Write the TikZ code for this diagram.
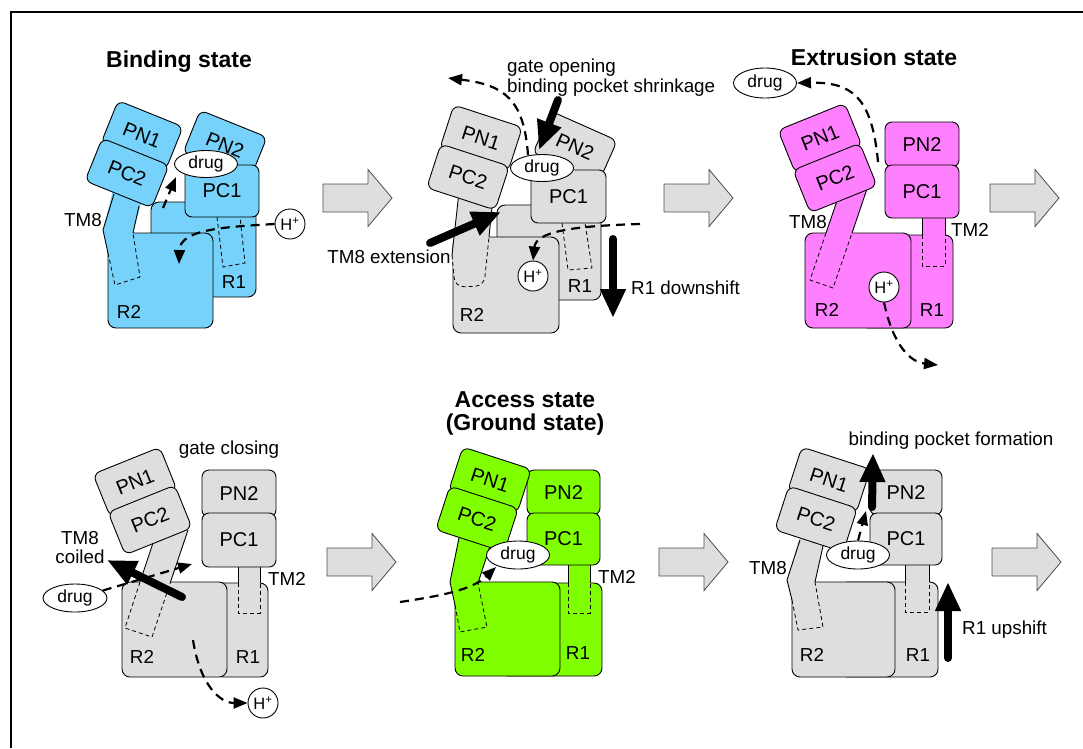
\documentclass[tikz,border=0pt]{standalone}
\usepackage{fontspec}
\setmainfont{Liberation Sans}
\usetikzlibrary{arrows.meta}
\usetikzlibrary{shapes.geometric}
\definecolor{bindblue}{RGB}{118,210,250}
\definecolor{extmag}{RGB}{255,128,255}
\definecolor{accgreen}{RGB}{128,255,0}
\definecolor{restgray}{RGB}{222,222,222}

\tikzset{
  dom/.style={draw, line width=0.9pt, rounded corners=7pt, inner sep=0pt, font=\fontsize{20}{21}\selectfont},
  base/.style={draw, line width=0.9pt, rounded corners=8pt},
  rim/.style={line width=0.9pt},
  hid/.style={line width=0.8pt, dash pattern=on 4pt off 3pt},
  flow/.style={line width=2.2pt, dash pattern=on 9pt off 6pt, -{Triangle[width=11pt,length=14pt]}},
  push/.style={line width=8pt, line cap=round, -{Triangle[width=24pt,length=29pt]}},
  drugnode/.style={ellipse, draw, fill=white, line width=0.9pt, minimum width=63pt, minimum height=27pt, inner sep=0pt, font=\fontsize{17.5}{18}\selectfont},
  proton/.style={circle, draw, fill=white, line width=0.9pt, minimum size=30pt, inner sep=0pt, font=\fontsize{16.5}{17}\selectfont},
  lbl/.style={inner sep=0pt, font=\fontsize{18.8}{19}\selectfont},
  ttl/.style={inner sep=0pt, font=\fontsize{23}{24}\selectfont\bfseries},
  bigarrow/.style={draw=black!70, line width=0.8pt, fill=restgray}
}

\begin{document}
\begin{tikzpicture}[x=1pt, y=-1pt]
\useasboundingbox (0,0) rectangle (1083,748);
\draw[line width=1.2pt] (10,12) -- (1083,12) (11,12) -- (11,748);

\foreach \x/\y in {323/198, 664/198, 990/198, 327/562, 659/562, 992/562}
  \draw[bigarrow] (\x,\y-14) -- ++(45,0) -- ++(0,-14.5) -- ++(24,28.5) -- ++(-24,28.5) -- ++(0,-14.5) -- ++(-45,0) -- cycle;

% binding state
\node[ttl] (t1) at (179,62) {Binding state};
\draw[base, fill=bindblue] (151,202) rectangle (256,297);
\draw[hid] (217,217) -- (223,267) -- (245,263) -- (240,217);
\draw[base, fill=bindblue] (108,233) rectangle (213,328);
\fill[bindblue] (113,190) -- (103,230) -- (108,253) -- (115,285) -- (140,277) -- (133,233) -- (142,200) -- cycle;
\draw[rim] (114,194) -- (103,230) -- (108,253) (139,206) -- (133,233);
\draw[hid] (108,253) -- (115,285) -- (140,277) -- (133,233);
\node[dom, fill=bindblue, minimum width=72pt, minimum height=46pt, rotate=-22] (pn2a) at (225,145) {PN2};
\node[dom, fill=bindblue, minimum width=74pt, minimum height=52pt] (pc1a) at (222,191) {PC1};
\node[dom, fill=bindblue, minimum width=70pt, minimum height=46pt, rotate=-22] (pn1a) at (142,135) {PN1};
\node[dom, fill=bindblue, minimum width=72pt, minimum height=46pt, rotate=-22] (pc2a) at (127,173) {PC2};
\node[drugnode] (d1) at (206,164) {drug};
\node[proton] (h1) at (290,224) {H\textsuperscript{+}};
\draw[flow] (h1.west) .. controls (220,227) and (180,230) .. (179,264);
\draw[flow] (163,208) -- (176,177);
\node[lbl] (tm8a) at (83,220) {TM8};
\node[lbl] (r1a) at (234,282) {R1};
\node[lbl] (r2a) at (129,312) {R2};

% transition to extrusion
\draw[base, fill=restgray] (497,205) rectangle (601,300);
\draw[hid] (562,223) -- (568,270) -- (592,268) -- (585,223);
\draw[base, fill=restgray] (453,237) rectangle (559,333);
\fill[restgray, rounded corners=9pt] (459,190) -- (452,255) -- (455,287) -- (484,286) -- (493,195) -- cycle;
\draw[rim] (459,192) -- (452,255) (493,197) -- (489,237);
\draw[hid, rounded corners=9pt] (452,255) -- (455,287) -- (484,286) -- (489,237);
\node[dom, fill=restgray, minimum width=72pt, minimum height=46pt, rotate=-24] (pn2b) at (575,147) {PN2};
\node[dom, fill=restgray, minimum width=75pt, minimum height=53pt] (pc1b) at (568.5,196.5) {PC1};
\node[dom, fill=restgray, minimum width=72pt, minimum height=46pt, rotate=-18] (pn1b) at (481,138) {PN1};
\node[dom, fill=restgray, minimum width=72pt, minimum height=46pt, rotate=-18] (pc2b) at (468,177) {PC2};
\node[drugnode] (d2) at (542,168) {drug};
\node[proton] (h2) at (533,276) {H\textsuperscript{+}};
\draw[flow] (640,224) .. controls (570,226) and (536,232) .. (h2.north);
\draw[flow] (528,155) .. controls (524,100) and (505,85) .. (448,78);
\draw[push] (430,243) -- (501,212);
\draw[push] (558,100) -- (539,150);
\draw[push] (613,239) -- (613,318);
\node[lbl, anchor=base west] (gob) at (507,72) {gate opening};
\node[lbl, anchor=base west] (bpsb) at (507,92) {binding pocket shrinkage};
\node[lbl] (tm8b) at (389,257) {TM8 extension};
\node[lbl, anchor=west] (r1db) at (631,288) {R1 downshift};
\node[lbl] (r1b) at (580,286) {R1};
\node[lbl] (r2b) at (472,315) {R2};

% extrusion state
\node[ttl] (t3) at (874,57) {Extrusion state};
\draw[base, fill=extmag] (860,235) rectangle (953,328);
\fill[extmag] (922,212) rectangle (945,266);
\draw[rim] (922,212) -- (922,235) (945,212) -- (945,235);
\draw[hid] (922,235) -- (922,266) -- (945,266) -- (945,235);
\draw[base, fill=extmag] (805,233) rectangle (911,328);
\fill[extmag] (838,198) -- (810,280) -- (833,288) -- (868,186) -- cycle;
\draw[rim] (838,198) -- (826,233) (868,186) -- (852,233);
\draw[hid] (826,233) -- (810,280) -- (833,288) -- (852,233);
\node[dom, fill=extmag, minimum width=74pt, minimum height=45pt] (pn2c) at (922,144.5) {PN2};
\node[dom, fill=extmag, minimum width=74pt, minimum height=53pt] (pc1c) at (922,191.5) {PC1};
\node[dom, fill=extmag, minimum width=72pt, minimum height=46pt, rotate=22] (pn1c) at (820,138) {PN1};
\node[dom, fill=extmag, minimum width=72pt, minimum height=46pt, rotate=22] (pc2c) at (835,178) {PC2};
\node[drugnode, minimum height=30pt] (d3) at (765,83) {drug};
\node[proton] (h3) at (884,287) {H\textsuperscript{+}};
\draw[flow] (878,162) .. controls (872,95) and (850,82) .. (d3.east);
\draw[flow] (h3.south) .. controls (893,345) and (910,362) .. (938,365);
\node[lbl] (tm8c) at (808,222) {TM8};
\node[lbl] (tm2c) at (970,230) {TM2};
\node[lbl] (r2c) at (827,310) {R2};
\node[lbl] (r1c) at (932,310) {R1};

% gate closing
\node[lbl] (gcd) at (229,450) {gate closing};
\draw[base, fill=restgray] (215,583) rectangle (268,677);
\fill[restgray] (238,561) rectangle (260,613);
\draw[rim] (238,561) -- (238,583) (260,561) -- (260,583);
\draw[hid] (238,583) -- (238,613) -- (260,613) -- (260,583);
\draw[base, fill=restgray] (122,582) rectangle (227,677);
\fill[restgray] (154,540) -- (125,628) -- (152,637) -- (188,530) -- cycle;
\draw[rim] (154,540) -- (140,582) (188,530) -- (170.5,582);
\draw[hid] (140,582) -- (125,628) -- (152,637) -- (170.5,582);
\node[dom, fill=restgray, minimum width=74pt, minimum height=47pt] (pn2d) at (239,493.5) {PN2};
\node[dom, fill=restgray, minimum width=74pt, minimum height=54pt] (pc1d) at (239,540) {PC1};
\node[dom, fill=restgray, minimum width=72pt, minimum height=46pt, rotate=22] (pn1d) at (135,482) {PN1};
\node[dom, fill=restgray, minimum width=72pt, minimum height=46pt, rotate=22] (pc2d) at (150,520) {PC2};
\node[drugnode, minimum width=64pt, minimum height=28pt] (d4) at (75,598) {drug};
\node[proton] (h4) at (263,703) {H\textsuperscript{+}};
\draw[flow] (d4.15) -- (192,564);
\draw[flow] (193,640) .. controls (200,685) and (220,703) .. (h4.west);
\draw[push] (182,597) -- (107,560);
\node[lbl, align=center] (tm8d) at (80,548) {TM8\\coiled};
\node[lbl] (tm2d) at (287,579) {TM2};
\node[lbl] (r2d) at (142,657) {R2};
\node[lbl] (r1d) at (248,657) {R1};

% access state
\node[ttl, anchor=base] (t5) at (525,407) {Access state};
\node[ttl, anchor=base] (t5b) at (525,430) {(Ground state)};
\draw[base, fill=accgreen] (500,583) rectangle (602,676);
\fill[accgreen] (568,560) rectangle (590,613);
\draw[rim] (568,560) -- (568,583) (590,560) -- (590,583);
\draw[hid] (568,583) -- (568,613) -- (590,613) -- (590,583);
\draw[base, fill=accgreen] (455,582) rectangle (560,676);
\fill[accgreen] (459,535) -- (450,582) -- (455,605) -- (460,632) -- (487,627) -- (478,583) -- (492,540) -- cycle;
\draw[rim] (459,538) -- (450,582) -- (455,605) (491,543) -- (478,583);
\draw[hid] (455,605) -- (460,632) -- (487,627) -- (478,583);
\node[dom, fill=accgreen, minimum width=73pt, minimum height=45pt] (pn2e) at (563.5,492.5) {PN2};
\node[dom, fill=accgreen, minimum width=73pt, minimum height=52pt] (pc1e) at (563.5,539) {PC1};
\node[dom, fill=accgreen, minimum width=72pt, minimum height=46pt, rotate=-18] (pn1e) at (490,480) {PN1};
\node[dom, fill=accgreen, minimum width=72pt, minimum height=46pt, rotate=-18] (pc2e) at (477,519) {PC2};
\node[drugnode, minimum height=28pt] (d5) at (518,555) {drug};
\draw[flow] (400,602) .. controls (440,596) and (472,590) .. (496,567);
\node[lbl] (tm2e) at (617,577) {TM2};
\node[lbl] (r2e) at (473,655) {R2};
\node[lbl] (r1e) at (578,653) {R1};

% pocket formation
\node[lbl] (bpff) at (951,441) {binding pocket formation};
\draw[base, fill=restgray] (840,582) rectangle (938,677);
\fill[restgray] (905,560) rectangle (929,612);
\draw[rim] (905,560) -- (905,582) (929,560) -- (929,582);
\draw[hid] (905,582) -- (905,612) -- (929,612) -- (929,582);
\draw[base, fill=restgray] (792,582) rectangle (895,677);
\fill[restgray] (800,535) -- (787,580) -- (792,600) -- (798,630) -- (823,627) -- (815,582) -- (824,542) -- cycle;
\draw[rim] (800,540) -- (787,580) -- (792,600) (823,546) -- (815,582);
\draw[hid] (792,600) -- (798,630) -- (823,627) -- (815,582);
\node[dom, fill=restgray, minimum width=72pt, minimum height=45pt] (pn2f) at (906,492.5) {PN2};
\node[dom, fill=restgray, minimum width=72pt, minimum height=52pt] (pc1f) at (906,539) {PC1};
\node[dom, fill=restgray, minimum width=72pt, minimum height=46pt, rotate=-18] (pn1f) at (829,480) {PN1};
\node[dom, fill=restgray, minimum width=72pt, minimum height=46pt, rotate=-18] (pc2f) at (816,519) {PC2};
\node[drugnode, minimum height=28pt] (d6) at (858,555) {drug};
\draw[flow] (d6.north) -- (866,511);
\draw[push] (872,507) -- (873,453);
\draw[push] (948,658) -- (948,582);
\node[lbl] (tm8f) at (768,568) {TM8};
\node[lbl, anchor=west] (r1uf) at (962,630) {R1 upshift};
\node[lbl] (r2f) at (812,655) {R2};
\node[lbl] (r1f) at (918,655) {R1};
\end{tikzpicture}
\end{document}
